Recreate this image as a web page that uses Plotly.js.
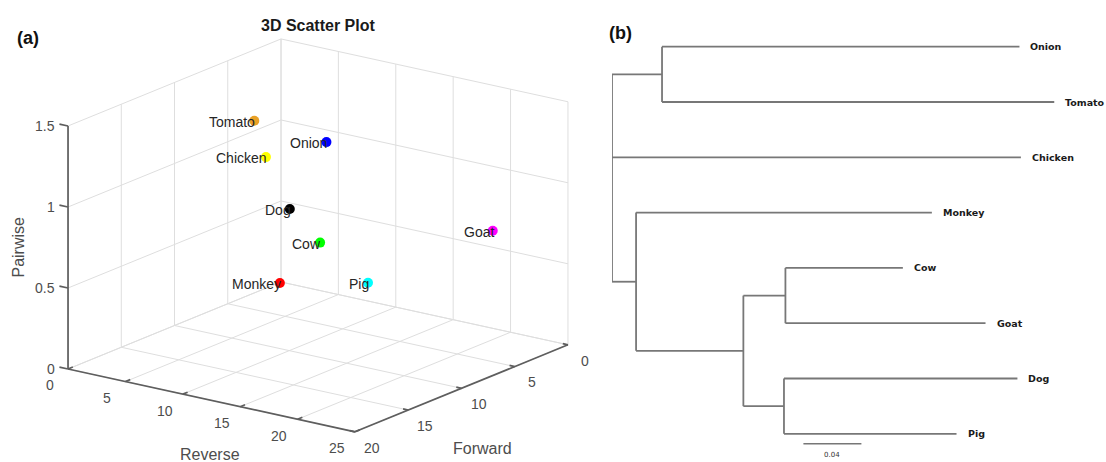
<!DOCTYPE html>
<html>
<head>
<meta charset="utf-8">
<script src="https://cdn.plot.ly/plotly-3.0.1.min.js"></script>
<style>html,body{margin:0;padding:0;background:#fff;}#plot{width:1106px;height:462px;}</style>
</head>
<body>
<div id="plot"></div>
<script>
// ================= DATA =================
// Panel (a): 3D scatter
const species      = ['Tomato', 'Chicken', 'Onion', 'Dog', 'Goat', 'Cow', 'Monkey', 'Pig'];
const reverseVals  = [7.6, 8.8, 12.4, 10.6, 22.9, 12.5, 10.2, 16.3];
const forwardVals  = [10.7, 10.9, 9.1, 10.6, 4.8, 9.8, 11.1, 9.4];
const pairwiseVals = [1.4, 1.2, 1.3, 0.9, 0.8, 0.7, 0.45, 0.5];
const pointColors  = ['#E9A126', '#FFFF00', '#0000FF', '#000000', '#FF00FF', '#00FF00', '#FF0000', '#00FFFF'];
const reverseTicks  = [0, 5, 10, 15, 20, 25];
const forwardTicks  = [0, 5, 10, 15, 20];
const pairwiseTicks = [0, 0.5, 1, 1.5];

// Panel (b): tree (child, parent, branch length)
const leafOrder  = ['Onion', 'Tomato', 'Chicken', 'Monkey', 'Cow', 'Goat', 'Dog', 'Pig'];
const treeChild  = ['nOT', 'Onion', 'Tomato', 'Chicken', 'nM', 'Monkey', 'nCGDP', 'nCG', 'Cow', 'Goat', 'nDP', 'Dog', 'Pig'];
const treeParent = ['root', 'nOT', 'nOT', 'root', 'root', 'nM', 'nM', 'nCGDP', 'nCG', 'nCG', 'nCGDP', 'nDP', 'nDP'];
const branchLen  = [0.0345, 0.2465, 0.2705, 0.282, 0.0166, 0.204, 0.074, 0.029, 0.081, 0.138, 0.028, 0.161, 0.119];
const scaleBarLen = 0.04;

// ================= 3D VIEW (orthographic projection, MATLAB-like) =================
const view = {
  azDeg: 36.2, elDeg: 17.4,
  boxPx: {rev: 355.6, fwd: 360.6, pair: 254.7},
  backCorner: [281, 282]          // pixel position of (rev=0, fwd=0, pair=0)
};
const revMax = reverseTicks[reverseTicks.length - 1];
const fwdMax = forwardTicks[forwardTicks.length - 1];
const pairMax = pairwiseTicks[pairwiseTicks.length - 1];
const A = view.azDeg * Math.PI / 180, E = view.elDeg * Math.PI / 180;
const uR = [view.boxPx.rev * Math.cos(A) / revMax, view.boxPx.rev * Math.sin(A) * Math.sin(E) / revMax];
const uF = [-view.boxPx.fwd * Math.sin(A) / fwdMax, view.boxPx.fwd * Math.cos(A) * Math.sin(E) / fwdMax];
const uZ = view.boxPx.pair * Math.cos(E) / pairMax;
function proj(r, f, z) {
  return [view.backCorner[0] + r * uR[0] + f * uF[0],
          view.backCorner[1] + r * uR[1] + f * uF[1] - z * uZ];
}
function seg(list, p, q) {
  const a = proj(...p), b = proj(...q);
  list.x.push(a[0], b[0], null); list.y.push(a[1], b[1], null);
}

const grid = {x: [], y: []};
// floor
reverseTicks.forEach(r => seg(grid, [r, 0, 0], [r, fwdMax, 0]));
forwardTicks.forEach(f => seg(grid, [0, f, 0], [revMax, f, 0]));
// wall rev = 0
pairwiseTicks.forEach(z => seg(grid, [0, 0, z], [0, fwdMax, z]));
forwardTicks.forEach(f => seg(grid, [0, f, 0], [0, f, pairMax]));
// wall fwd = 0
pairwiseTicks.forEach(z => seg(grid, [0, 0, z], [revMax, 0, z]));
reverseTicks.forEach(r => seg(grid, [r, 0, 0], [r, 0, pairMax]));

const axes3 = {x: [], y: []};
seg(axes3, [0, fwdMax, 0], [0, fwdMax, pairMax]);
seg(axes3, [0, fwdMax, 0], [revMax, fwdMax, 0]);
seg(axes3, [revMax, 0, 0], [revMax, fwdMax, 0]);
reverseTicks.forEach(r => seg(axes3, [r, fwdMax, 0], [r, fwdMax - 0.45, 0]));
forwardTicks.forEach(f => seg(axes3, [revMax, f, 0], [revMax - 0.45, f, 0]));
pairwiseTicks.forEach(z => seg(axes3, [0, fwdMax, z], [-0.75, fwdMax, z]));

const pts = species.map((s, i) => proj(reverseVals[i], forwardVals[i], pairwiseVals[i]));

// ================= TREE LAYOUT =================
const depth = {root: 0};
const children = {};
treeChild.forEach((c, i) => { (children[treeParent[i]] = children[treeParent[i]] || []).push(c); });
function setDepth(n) {
  (children[n] || []).forEach(c => { depth[c] = depth[n] + branchLen[treeChild.indexOf(c)]; setDepth(c); });
}
setDepth('root');
const ypos = {};
function setY(n) {
  if (!children[n]) { ypos[n] = leafOrder.indexOf(n); return ypos[n]; }
  const ys = children[n].map(setY);
  ypos[n] = (Math.min(...ys) + Math.max(...ys)) / 2;
  return ypos[n];
}
setY('root');
const treeX = [], treeY = [];
treeChild.forEach((c, i) => { treeX.push(depth[treeParent[i]], depth[c], null); treeY.push(ypos[c], ypos[c], null); });
Object.keys(children).forEach(n => {
  const ys = children[n].map(c => ypos[c]);
  treeX.push(depth[n], depth[n], null); treeY.push(Math.min(...ys), Math.max(...ys), null);
});
const scaleBarX0 = 0.132, scaleBarY = 7.18;

// ================= TRACES =================
const treeColor = '#777777';
const traces = [
  {type: 'scatter', mode: 'lines', x: grid.x, y: grid.y, xaxis: 'x2', yaxis: 'y2',
   line: {color: '#dedede', width: 1}, hoverinfo: 'skip'},
  {type: 'scatter', mode: 'lines', x: axes3.x, y: axes3.y, xaxis: 'x2', yaxis: 'y2',
   line: {color: '#5e5e5e', width: 1.7}, hoverinfo: 'skip'},
  {type: 'scatter', mode: 'markers', x: pts.map(p => p[0]), y: pts.map(p => p[1]), xaxis: 'x2', yaxis: 'y2',
   marker: {size: 10, color: pointColors, line: {width: 0}}, text: species, hoverinfo: 'text'},
  {type: 'scatter', mode: 'lines', x: treeX, y: treeY, xaxis: 'x', yaxis: 'y',
   line: {color: treeColor, width: 1.8}, hoverinfo: 'skip'},
  {type: 'scatter', mode: 'lines', x: [scaleBarX0, scaleBarX0 + scaleBarLen], y: [scaleBarY, scaleBarY],
   xaxis: 'x', yaxis: 'y', line: {color: treeColor, width: 1.5}, hoverinfo: 'skip'}
];

// ================= ANNOTATIONS =================
const FONT = 'Liberation Sans, Arial, Helvetica, sans-serif';
const ann = [];
function a3(p, text, opts) {
  ann.push(Object.assign({x: p[0], y: p[1], xref: 'x2', yref: 'y2', text: text, showarrow: false,
    xanchor: 'center', yanchor: 'middle', font: {family: FONT, size: 14, color: '#4d4d4d'}}, opts || {}));
}
pairwiseTicks.forEach(z => a3(proj(0, fwdMax, z), String(z), {xanchor: 'right', xshift: -11}));
reverseTicks.forEach(r => a3(proj(r, fwdMax + 1.7, 0), String(r), {yshift: -9}));
forwardTicks.forEach(f => a3(proj(revMax + 1.5, f, 0), String(f), {yshift: -12}));
a3(proj(revMax / 2, fwdMax, 0), 'Reverse', {yshift: -54, xshift: -2, font: {family: FONT, size: 16, color: '#4d4d4d'}});
a3(proj(revMax, fwdMax / 2, 0), 'Forward', {yshift: -60, xshift: 21, font: {family: FONT, size: 16, color: '#4d4d4d'}});
a3(proj(0, fwdMax, pairMax / 2), 'Pairwise', {xshift: -50, textangle: -90, font: {family: FONT, size: 16, color: '#4d4d4d'}});
species.forEach((s, i) => a3(pts[i], s, {xanchor: 'right', xshift: 3, yshift: -1,
  font: {family: FONT, size: 14, color: '#262626'}}));

ann.push({x: 317.5 / 1106, y: 1 - 26 / 462, xref: 'paper', yref: 'paper', xanchor: 'center', yanchor: 'middle',
  text: '<b>3D Scatter Plot</b>', showarrow: false, font: {family: FONT, size: 16, color: '#1a1a1a'}});
ann.push({x: 28 / 1106, y: 1 - 38 / 462, xref: 'paper', yref: 'paper', xanchor: 'center', yanchor: 'middle',
  text: '<b>(a)</b>', showarrow: false, font: {family: FONT, size: 18, color: '#111'}});
ann.push({x: 620 / 1106, y: 1 - 33 / 462, xref: 'paper', yref: 'paper', xanchor: 'center', yanchor: 'middle',
  text: '<b>(b)</b>', showarrow: false, font: {family: FONT, size: 18, color: '#111'}});
ann.push({x: scaleBarX0 + scaleBarLen / 2, y: scaleBarY, xref: 'x', yref: 'y', text: String(scaleBarLen),
  showarrow: false, yshift: -11, font: {family: 'DejaVu Sans, sans-serif', size: 7, color: '#333333'}});
leafOrder.forEach(n => ann.push({x: depth[n], y: ypos[n], xref: 'x', yref: 'y', text: '<b>' + n + '</b>',
  showarrow: false, xanchor: 'left', yanchor: 'middle', xshift: 9,
  font: {family: 'DejaVu Sans, sans-serif', size: 9.5, color: '#1a1a1a'}}));

const layout = {
  width: 1106, height: 462,
  margin: {l: 0, r: 0, t: 0, b: 0},
  paper_bgcolor: '#fff', plot_bgcolor: 'rgba(0,0,0,0)',
  showlegend: false,
  xaxis2: {domain: [0, 600 / 1106], range: [0, 600], visible: false, fixedrange: true},
  yaxis2: {domain: [0, 1], range: [462, 0], visible: false, fixedrange: true},
  xaxis: {domain: [612 / 1106, 1100 / 1106], range: [0, 488 / 1450], visible: false, fixedrange: true},
  yaxis: {domain: [0, 1 - 10 / 462], range: [(462 - 46.7) / 55.3, (10 - 46.7) / 55.3], visible: false, fixedrange: true},
  annotations: ann
};

Plotly.newPlot('plot', traces, layout, {displayModeBar: false, staticPlot: true});
</script>
</body>
</html>
